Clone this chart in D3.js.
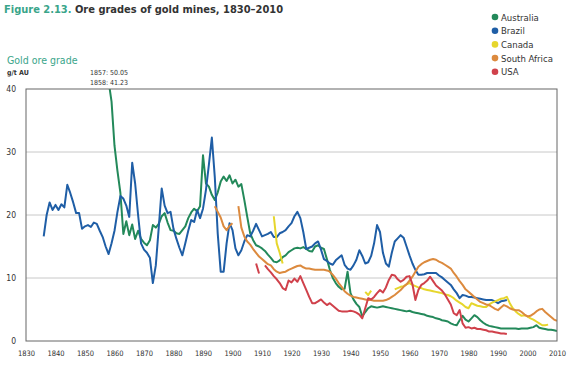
<!DOCTYPE html>
<html>
<head>
<meta charset="utf-8">
<script src="https://cdn.jsdelivr.net/npm/d3@7"></script>
<style>
  body { margin: 0; background: #fff; }
  svg text { font-family: "Liberation Sans Narrow", "DejaVu Sans Condensed", sans-serif; }
</style>
</head>
<body>
<div id="chart"></div>
<script>
// annual series, null = no data for that year
const australiaStart = 1857;
const australia = [50.05, 41.23, 38, 31, 27, 23.5, 17, 19, 16.8, 18.5,
  16.2, 17.5, 16.2, 15.6, 15.2, 16, 18.4, 18, 18.6, 19.8,
  20.3, 18.8, 17.6, 17.5, 17.1, 17, 17.6, 18.2, 19.5, 20.4,
  21, 20.6, 21.4, 29.5, 25, 24.5, 23.2, 22.4, 23.6, 25.3,
  26.1, 25.4, 26.3, 25, 25.6, 24.5, 24.9, 22.4, 19.7, 17.1,
  16, 15.2, 15, 14.7, 14.3, 13.7, 13.2, 12.6, 12.5, 12.8,
  13.3, 13.6, 14.1, 14.4, 14.7, 14.8, 14.7, 14.9, 14.6, 14.3,
  14.2, 15, 15.2, 14.8, 14.6, 13, 11.3, 10, 9.2, 8.6,
  8.2, 8.3, 11, 7.6, 6.6, 5.9, 5.4, 3.9, 4.6, 5.2,
  5.5, 5.4, 5.3, 5.4, 5.5, 5.4, 5.3, 5.2, 5.1, 5.0,
  4.9, 4.8, 4.7, 4.8, 4.6, 4.5, 4.4, 4.3, 4.2, 4.0,
  3.9, 3.8, 3.6, 3.5, 3.3, 3.2, 3.1, 2.8, 2.6, 2.5,
  3.3, 4.0, 3.4, 3.1, 3.6, 4.1, 3.8, 3.3, 2.9, 2.6,
  2.4, 2.3, 2.2, 2.1, 2.0, 2.0, 2.0, 2.0, 2.0, 2.0,
  1.9, 2.0, 2.0, 2.0, 2.1, 2.2, 2.5, 2.1, 2.0, 1.9,
  1.8, 1.8, 1.7, 1.6];

const brazilStart = 1836;
const brazil = [16.6, 20, 22, 20.8, 21.6, 20.8, 21.7, 21.2, 24.8, 23.5,
  22, 20.3, 20.3, 17.8, 18.2, 18.4, 18.1, 18.8, 18.6, 17.5,
  16.5, 15, 13.8, 15.5, 17.5, 20.5, 23, 22.6, 21.5, 19.7,
  28.3, 25, 20, 15.5, 14.5, 14, 13.2, 9.2, 12, 18,
  24.2, 21.5, 20.3, 20.5, 17.8, 16.2, 14.8, 13.6, 15.5, 17.5,
  19.2, 18.9, 20.8, 19.5, 21, 24, 28, 32.3, 26, 17,
  11, 11, 15.5, 18.7, 17.6, 14.7, 13.6, 14.4, 15.8, 16.8,
  16.6, 17.5, 18.6, 17.6, 16.6, 16.8, 17, 17.3, 16.5, 16.5,
  17.1, 17.3, 17.6, 18.2, 18.7, 19.8, 20.5, 19.5, 17.3, 14.6,
  14.8, 15, 15.5, 15.8, 14.5, 13, 12.7, 12.3, 12.1, 12.8,
  13.2, 13.6, 12.1, 11.5, 11.3, 12, 12.9, 14.4, 13.5, 12.3,
  12.5, 13.5, 15.5, 18.4, 17.3, 14, 12.3, 11.8, 14, 15.8,
  16.3, 16.8, 16.4, 15, 13.6, 12.3, 11.3, 10.5, 10.5, 10.6,
  10.8, 10.8, 10.8, 10.8, 10.4, 10.1, 9.7, 9.3, 8.9, 8.2,
  7.6, 6.8, 7.3, 7.2, 7.0, 7.0, 6.9, 6.8, 6.7, 6.6,
  6.5, 6.5, 6.5, 6.3, 6.0, 6.3, 6.4, 6.5];

const canadaStart = 1914;
const canada = [19.8, 15.5, 14, 12.3, null, null, null, null, null, null,
  null, null, null, null, null, null, null, null, null, null,
  null, null, null, null, null, null, null, null, null, null,
  null, 7.8, 7.3, 8.0, null, null, null, null, null, null,
  null, 8.2, 8.4, 8.6, 8.7, 9.0, 9.2, 8.9, 8.7, 8.5,
  8.4, 8.2, 8.1, 8.0, 7.9, 7.8, 7.7, 7.6, 7.4, 7.3,
  7.1, 6.8, 6.4, 6.1, 5.8, 5.4, 5.2, 6.0, 5.8, 5.6,
  5.5, 5.4, 5.4, 5.8, 6.1, 6.3, 6.5, 6.7, 6.8, 7.0,
  6.0, 5.2, 4.7, 4.3, 4.0, 4.1, 3.9, 3.6, 3.4, 3.1,
  2.8, 2.5, 2.5, 2.6];

const southAfricaStart = 1894;
const southAfrica = [21.4, 20.5, 19.6, 18.2, 17.6, 18.3, 18.7, null, 21.4, 18,
  16.6, 15.8, 15.3, 14.6, 14, 13.4, 13, 12.6, 12.2, 12,
  11.4, 11, 10.8, 10.9, 11, 11.3, 11.5, 11.7, 11.9, 12,
  11.7, 11.5, 11.5, 11.4, 11.3, 11.3, 11.3, 11.3, 11.2, 11,
  10.5, 9.9, 9.2, 8.6, 7.9, 7.5, 7.2, 7.0, 6.9, 6.8,
  6.7, 6.6, 6.5, 6.5, 6.4, 6.4, 6.4, 6.4, 6.5, 6.7,
  7.0, 7.3, 7.7, 8.1, 8.6, 9.0, 9.6, 10.2, 11, 11.8,
  12.2, 12.5, 12.7, 12.9, 13.0, 12.9, 12.6, 12.4, 12.1, 11.8,
  11.5, 10.8, 10.2, 9.5, 8.9, 8.2, 7.8, 7.4, 7.0, 6.6,
  6.2, 6.0, 5.8, 5.7, 5.4, 5.1, 4.9, 5.3, 5.7, 5.5,
  5.2, 5.0, 4.9, 4.9, 4.6, 4.2, 3.9, 4.0, 4.3, 4.7,
  5.0, 5.1, 4.6, 4.2, 3.8, 3.4, 3.2];

const usaStart = 1908;
const usa = [12.3, 10.7, null, 12.0, 11.4, 10.9, 10.3, 9.8, 9.2, 8.4,
  8.1, 9.6, 9.3, 9.9, 9.4, 10.3, 9.2, 8.1, 7.0, 6.0,
  6.0, 6.3, 6.6, 6.1, 5.7, 6.0, 5.6, 5.2, 4.8, 4.7,
  4.7, 4.7, 4.8, 4.7, 4.5, 4.2, 3.6, 5.2, 6.8, 6.6,
  7.0, 7.6, 8.1, 7.7, 8.5, 9.7, 10.5, 10.4, 9.8, 9.4,
  9.7, 10.2, 10.3, 9.0, 6.5, 8.1, 8.9, 9.2, 9.6, 10.2,
  9.5, 8.8, 8.4, 8.0, 7.4, 6.6, 5.8, 4.4, 4.1, 4.9,
  2.8, 2.1, 2.2, 2.0, 2.1, 1.9, 1.9, 1.8, 1.7, 1.5,
  1.5, 1.4, 1.3, 1.2, 1.2, 1.1];

const seriesNames = ["Australia", "Brazil", "Canada", "South Africa", "USA"];
const seriesColors = ["#23895a", "#1f5ea6", "#e6d62c", "#dc8a3e", "#d0414b"];
const seriesStarts = [australiaStart, brazilStart, canadaStart, southAfricaStart, usaStart];
const seriesValues = [australia, brazil, canada, southAfrica, usa];

const yTicks = [0, 10, 20, 30, 40];
const xTicks = d3.range(1830, 2011, 10);

const width = 573, height = 367;
const margin = { top: 89, right: 16, bottom: 26, left: 26 };

const svg = d3.select("#chart").append("svg")
  .attr("width", width)
  .attr("height", height);

const x = d3.scaleLinear().domain([1830, 2010]).range([margin.left, width - margin.right]);
const y = d3.scaleLinear().domain([0, 40]).range([height - margin.bottom, margin.top]);

// title
const title = svg.append("text").attr("x", 4).attr("y", 13)
  .attr("font-size", "11px").attr("font-weight", "bold");
title.append("tspan").attr("fill", "#3aa58a").text("Figure 2.13.");
title.append("tspan").attr("fill", "#333").text(" Ore grades of gold mines, 1830–2010");

svg.append("text").attr("x", 7).attr("y", 64)
  .attr("font-size", "10.5px").attr("fill", "#3aa58a").text("Gold ore grade");
svg.append("text").attr("x", 7).attr("y", 75)
  .attr("font-size", "7px").attr("font-weight", "bold").attr("fill", "#333").text("g/t AU");

// gridlines
svg.append("g").selectAll("line")
  .data(yTicks.filter(d => d > 0 && d < 40))
  .join("line")
  .attr("x1", x(1830)).attr("x2", x(2010))
  .attr("y1", d => y(d)).attr("y2", d => y(d))
  .attr("stroke", "#c8c8c8").attr("stroke-width", 1);

// axes (labels only)
const yAxis = svg.append("g")
  .attr("transform", `translate(${margin.left},0)`)
  .call(d3.axisLeft(y).tickValues(yTicks).tickSize(0).tickPadding(10));
yAxis.select(".domain").remove();
yAxis.selectAll("text").attr("font-size", "8.5px").attr("fill", "#333");

const xAxis = svg.append("g")
  .attr("transform", `translate(0,${height - margin.bottom})`)
  .call(d3.axisBottom(x).tickValues(xTicks).tickFormat(d3.format("d")).tickSize(0).tickPadding(10));
xAxis.select(".domain").remove();
xAxis.selectAll("text").attr("font-size", "7.5px").attr("fill", "#333");

svg.append("clipPath").attr("id", "plot-clip")
  .append("rect")
  .attr("x", x(1830)).attr("y", y(40))
  .attr("width", x(2010) - x(1830)).attr("height", y(0) - y(40));

const line = d3.line()
  .defined(d => d.v !== null)
  .x(d => x(d.year))
  .y(d => y(d.v));

const lines = svg.append("g").attr("clip-path", "url(#plot-clip)");
seriesNames.forEach((name, i) => {
  const pts = seriesValues[i].map((v, j) => ({ year: seriesStarts[i] + j, v: v }));
  lines.append("path")
    .datum(pts)
    .attr("fill", "none")
    .attr("stroke", seriesColors[i])
    .attr("stroke-width", 2)
    .attr("stroke-linejoin", "round")
    .attr("d", line);
});

// plot frame
svg.append("rect")
  .attr("x", x(1830)).attr("y", y(40))
  .attr("width", x(2010) - x(1830)).attr("height", y(0) - y(40))
  .attr("fill", "none").attr("stroke", "#666").attr("stroke-width", 1);

// off-scale values for Australia
const notes = svg.append("g").attr("font-size", "7px").attr("fill", "#333").attr("text-anchor", "middle");
[0, 1].forEach((j, k) => {
  notes.append("text")
    .attr("x", 109).attr("y", 75 + k * 10)
    .text(`${australiaStart + j}: ${australia[j].toFixed(2)}`);
});

// legend
const legend = svg.append("g").attr("transform", "translate(495,17)");
seriesNames.forEach((name, i) => {
  const g = legend.append("g").attr("transform", `translate(0,${i * 13.7})`);
  g.append("circle").attr("r", 3.3).attr("fill", seriesColors[i]);
  g.append("text").attr("x", 6).attr("y", 3.5)
    .attr("font-size", "9.5px").attr("fill", "#333").text(name);
});
</script>
</body>
</html>
